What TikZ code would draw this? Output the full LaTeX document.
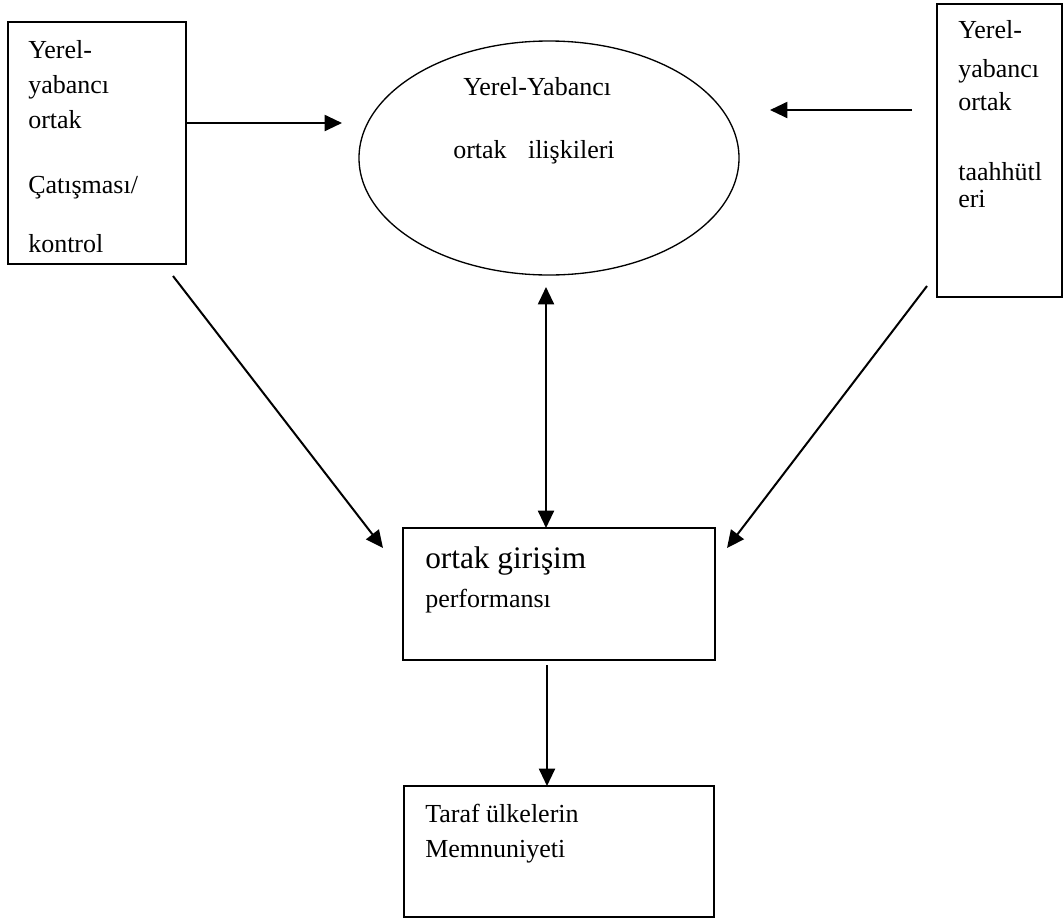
\documentclass[tikz,border=0pt]{standalone}
\usepackage{fontspec}
\setmainfont{Liberation Serif}
\usetikzlibrary{arrows.meta,fit,shapes.geometric}
\begin{document}
\begin{tikzpicture}[x=0.75pt,y=-0.75pt,
  box/.style={draw,line width=1.2pt,inner sep=0pt},
  txt/.style={inner sep=0pt,anchor=base west,font=\fontsize{19.5pt}{22pt}\selectfont},
  bigtxt/.style={inner sep=0pt,anchor=base west,font=\fontsize{23.5pt}{27pt}\selectfont},
  tip/.style={Triangle[length=13pt,width=12pt]},
  arr/.style={line width=1.5pt,-{Triangle[length=13pt,width=12pt]}},
  darr/.style={line width=1.5pt,{Triangle[length=13pt,width=12pt]}-{Triangle[length=13pt,width=12pt]}}]
\useasboundingbox (0,0) rectangle (1063,922);
% boxes
\node[box,fit={(8,22)(186,264)}] (L) {};
\node[box,fit={(937,4)(1062,297)}] (R) {};
\node[draw,line width=1pt,ellipse,inner sep=0pt,minimum width=285pt,minimum height=175.5pt] (E) at (549,158) {};
\node[box,fit={(403,528)(715,660)}] (P) {};
\node[box,fit={(404,786)(714,917)}] (S) {};
% left box text
\node[txt] (l1) at (28,58) {Yerel-};
\node[txt] (l2) at (28,93) {yabancı};
\node[txt] (l3) at (28,128) {ortak};
\node[txt] (l4) at (28,193) {Çatışması/};
\node[txt] (l5) at (28,252) {kontrol};
% right box text
\node[txt] (r1) at (958,38) {Yerel-};
\node[txt] (r2) at (958,77) {yabancı};
\node[txt] (r3) at (958,110) {ortak};
\node[txt] (r4) at (958,180) {taahhütl};
\node[txt] (r5) at (958,207) {eri};
% ellipse text
\node[txt] (e1) at (463,95) {Yerel-Yabancı};
\node[txt] (e2) at (453,158) {ortak\hspace{16pt}ilişkileri};
% performance box text
\node[bigtxt] (p1) at (425,568) {ortak girişim};
\node[txt] (p2) at (425,607) {performansı};
% satisfaction box text
\node[txt] (s1) at (425,822) {Taraf ülkelerin};
\node[txt] (s2) at (425,857) {Memnuniyeti};
% connector ends
\coordinate (aL1) at (186,123);
\coordinate (aL2) at (342,123);
\coordinate (aR1) at (912,110);
\coordinate (aR2) at (770,110);
\coordinate (dL1) at (173,276);
\coordinate (dL2) at (383,548);
\coordinate (dR1) at (927,286);
\coordinate (dR2) at (727,548);
\coordinate (v1) at (546,287);
\coordinate (v2) at (546,528);
\coordinate (w1) at (547,665);
\coordinate (w2) at (547,786);
% connectors
\draw[arr] (aL1) -- (aL2);
\draw[arr] (aR1) -- (aR2);
\draw[arr] (dL1) -- (dL2);
\draw[arr] (dR1) -- (dR2);
\draw[darr] (v1) -- (v2);
\draw[arr] (w1) -- (w2);
\end{tikzpicture}
\end{document}
